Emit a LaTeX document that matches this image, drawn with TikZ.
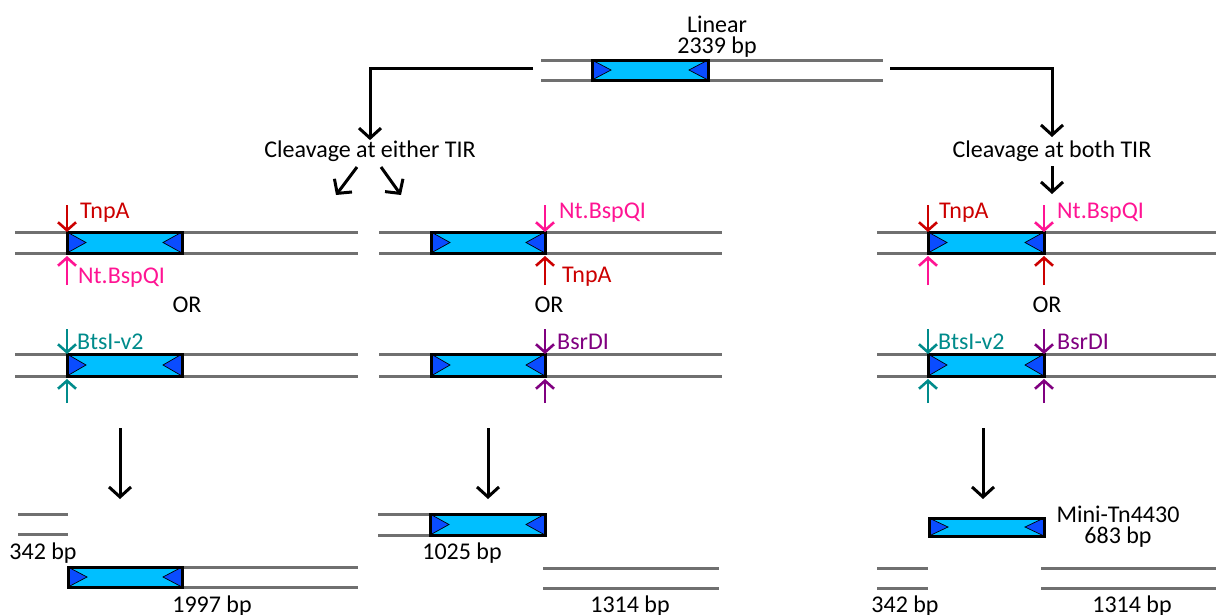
\documentclass[tikz,border=0pt]{standalone}
\usepackage{fontspec}
\setmainfont{Carlito}
\usetikzlibrary{arrows.meta}

\definecolor{strandgray}{HTML}{707070}
\definecolor{tnfill}{HTML}{00BFFF}
\definecolor{tirblue}{HTML}{0A4CFF}
\definecolor{tnpared}{HTML}{CC0000}
\definecolor{bspqpink}{HTML}{FF1493}
\definecolor{btsteal}{HTML}{008B8B}
\definecolor{bsrpurple}{HTML}{800080}

\tikzset{
  strand/.style={draw=strandgray, line width=3pt},
  tnbox/.style={rectangle, fill=tnfill, draw=none, inner sep=0pt, outer sep=0pt},
  tir/.style={fill=tirblue, draw=black, line width=0.7pt, line join=miter},
  tnedge/.style={draw=black, line width=3pt, line join=miter},
  txt/.style={inner sep=0pt, font=\fontsize{24}{20}\selectfont},
  flow/.style={draw=black, line width=3pt, -{Straight Barb[length=10pt,width=22pt,line width=3pt]}},
  cut/.style={line width=2.6pt, -{Straight Barb[length=8pt,width=18pt,line width=2.6pt]}},
}

% two strands of DNA: x-left, x-right, y of top strand, y of bottom strand
\newcommand\dsdna[4]{%
  \draw[strand] (#1,#3) -- (#2,#3);
  \draw[strand] (#1,#4) -- (#2,#4);}

% mini-transposon with its two inverted repeats: name, x-left, x-right, y-top, y-bottom
\newcommand\minitn[5]{%
  \node[tnbox, minimum width={#3-#2}, minimum height={#5-#4}] (#1) at ({(#2+#3)/2},{(#4+#5)/2}) {};
  \filldraw[tir] (#1.north west) -- ([xshift=19pt]#1.west) -- (#1.south west) -- cycle;
  \filldraw[tir] (#1.north east) -- ([xshift=-19pt]#1.east) -- (#1.south east) -- cycle;
  \draw[tnedge] (#1.north west) rectangle (#1.south east);}

\begin{document}
\begin{tikzpicture}[x=1pt, y=-1pt]
\useasboundingbox (0,0) rectangle (1216,614);

% ---- linear substrate ----
\dsdna{541}{883}{60}{80}
\minitn{t0}{592}{708}{60}{80}
\node[txt, anchor=base] (lin) at (717,32) {Linear};
\node[txt, anchor=base] (linbp) at (717,53) {2339 bp};

\node[txt, anchor=base] (either) at (370,157) {Cleavage at either TIR};
\node[txt, anchor=base] (both) at (1052,157) {Cleavage at both TIR};

\coordinate (srcL) at (533,68);
\coordinate (srcR) at (890,68);
\draw[flow] (srcL) -- (370,68) -- (either.north);
\draw[flow] (srcR) -- (1052,68) -- (1052,137);

\coordinate (dL0) at (357,167); \coordinate (dL1) at (336,195);
\coordinate (dR0) at (381,167); \coordinate (dR1) at (401,195);
\draw[flow] (dL0) -- (dL1);
\draw[flow] (dR0) -- (dR1);
\coordinate (dB0) at (1052,166); \coordinate (dB1) at (1052,194);
\draw[flow] (dB0) -- (dB1);

% ---- left panel: cut at left TIR ----
\dsdna{15}{358}{232}{253}
\minitn{a1}{67}{182}{232}{253}
\draw[cut, tnpared] ([yshift=27pt]a1.north west) -- (a1.north west);
\draw[cut, bspqpink] ([yshift=-32pt]a1.south west) -- ([yshift=-3pt]a1.south west);
\node[txt, anchor=base west, text=tnpared] (a1t) at (80,218) {TnpA};
\node[txt, anchor=base west, text=bspqpink] (a1b) at (78,283) {Nt.BspQI};
\node[txt, anchor=base] (orA) at (187,312) {OR};

\dsdna{15}{358}{354}{376}
\minitn{a2}{67}{182}{354}{376}
\draw[cut, btsteal] ([yshift=25pt]a2.north west) -- (a2.north west);
\draw[cut, btsteal] ([yshift=-27pt]a2.south west) -- ([yshift=-3pt]a2.south west);
\node[txt, anchor=base west, text=btsteal] (a2t) at (77,349) {BtsI-v2};

% ---- middle panel: cut at right TIR ----
\dsdna{379}{722}{232}{253}
\minitn{b1}{431}{545}{232}{253}
\draw[cut, bspqpink] ([yshift=27pt]b1.north east) -- (b1.north east);
\draw[cut, tnpared] ([yshift=-32pt]b1.south east) -- ([yshift=-3pt]b1.south east);
\node[txt, anchor=base west, text=bspqpink] (b1t) at (559,218) {Nt.BspQI};
\node[txt, anchor=base west, text=tnpared] (b1b) at (562,282) {TnpA};
\node[txt, anchor=base] (orB) at (549,312) {OR};

\dsdna{379}{722}{354}{376}
\minitn{b2}{431}{545}{354}{376}
\draw[cut, bsrpurple] ([yshift=25pt]b2.north east) -- (b2.north east);
\draw[cut, bsrpurple] ([yshift=-27pt]b2.south east) -- ([yshift=-3pt]b2.south east);
\node[txt, anchor=base west, text=bsrpurple] (b2t) at (557,349) {BsrDI};

% ---- right panel: cut at both TIRs ----
\dsdna{877}{1216}{232}{253}
\minitn{c1}{928}{1044}{232}{253}
\draw[cut, tnpared] ([yshift=27pt]c1.north west) -- (c1.north west);
\draw[cut, bspqpink] ([yshift=27pt]c1.north east) -- (c1.north east);
\draw[cut, bspqpink] ([yshift=-32pt]c1.south west) -- ([yshift=-3pt]c1.south west);
\draw[cut, tnpared] ([yshift=-32pt]c1.south east) -- ([yshift=-3pt]c1.south east);
\node[txt, anchor=base west, text=tnpared] (c1t) at (939,218) {TnpA};
\node[txt, anchor=base west, text=bspqpink] (c1u) at (1057,218) {Nt.BspQI};
\node[txt, anchor=base] (orC) at (1047,312) {OR};

\dsdna{877}{1216}{354}{376}
\minitn{c2}{928}{1044}{354}{376}
\draw[cut, btsteal] ([yshift=25pt]c2.north west) -- (c2.north west);
\draw[cut, bsrpurple] ([yshift=25pt]c2.north east) -- (c2.north east);
\draw[cut, btsteal] ([yshift=-27pt]c2.south west) -- ([yshift=-3pt]c2.south west);
\draw[cut, bsrpurple] ([yshift=-27pt]c2.south east) -- ([yshift=-3pt]c2.south east);
\node[txt, anchor=base west, text=btsteal] (c2t) at (938,349) {BtsI-v2};
\node[txt, anchor=base west, text=bsrpurple] (c2u) at (1057,349) {BsrDI};

% ---- products ----
\coordinate (pA0) at (120,428); \coordinate (pA1) at (120,499);
\coordinate (pB0) at (488,428); \coordinate (pB1) at (488,499);
\coordinate (pC0) at (983,428); \coordinate (pC1) at (983,499);
\draw[flow] (pA0) -- (pA1);
\draw[flow] (pB0) -- (pB1);
\draw[flow] (pC0) -- (pC1);

% left products
\dsdna{18}{68}{514}{534}
\node[txt, anchor=base] (pa1) at (43,559) {342 bp};
\dsdna{182}{358}{567}{587}
\minitn{a3}{68}{182}{567}{587}
\node[txt, anchor=base] (pa2) at (212,612) {1997 bp};

% middle products
\dsdna{378}{430}{514}{535}
\minitn{b3}{430}{545}{514}{535}
\node[txt, anchor=base] (pb1) at (462,559) {1025 bp};
\dsdna{543}{719}{568}{588}
\node[txt, anchor=base] (pb2) at (630,612) {1314 bp};

% right products
\minitn{c3}{929}{1044}{518}{536}
\node[txt, anchor=base] (pc0) at (1118,522) {Mini-Tn4430};
\node[txt, anchor=base] (pc0b) at (1118,543) {683 bp};
\dsdna{877}{928}{568}{588}
\node[txt, anchor=base] (pc1) at (905,612) {342 bp};
\dsdna{1041}{1216}{568}{588}
\node[txt, anchor=base] (pc2) at (1132,612) {1314 bp};
\end{tikzpicture}
\end{document}
